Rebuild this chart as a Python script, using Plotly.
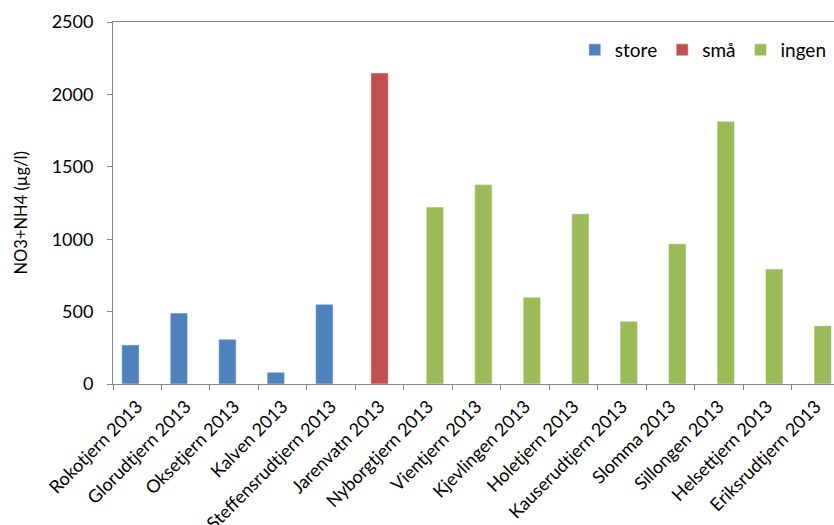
import plotly.graph_objects as go

categories = ["Rokotjern 2013", "Glorudtjern 2013", "Oksetjern 2013", "Kalven 2013",
              "Steffensrudtjern 2013", "Jarenvatn 2013", "Nyborgtjern 2013", "Vientjern 2013",
              "Kjevlingen 2013", "Holetjern 2013", "Kauserudtjern 2013", "Slomma 2013",
              "Sillongen 2013", "Helsettjern 2013", "Eriksrudtjern 2013"]
store = [270, 490, 309, 81, 550, None, None, None, None, None, None, None, None, None, None]
sma = [None, None, None, None, None, 2148, None, None, None, None, None, None, None, None, None]
ingen = [None, None, None, None, None, None, 1222, 1377, 599, 1176, 433, 969, 1814, 794, 403]
y_ticks = [0, 500, 1000, 1500, 2000, 2500]
y_title = "NO3+NH4 (µg/l)"

FONT = "Lato"
bw = 0.36
fig = go.Figure()
for name, vals, col, off in [("store", store, "#4F81BD", -0.32),
                             ("små", sma, "#C0504D", -0.18),
                             ("ingen", ingen, "#9BBB59", -0.038)]:
    fig.add_trace(go.Bar(x=categories, y=vals, name=name, width=bw, offset=off,
                         marker=dict(color=col, line=dict(color="rgba(255,255,255,0.5)", width=1))))

fig.update_layout(
    width=834, height=525,
    margin=dict(l=113, r=0, t=22, b=141),
    plot_bgcolor="white", paper_bgcolor="white",
    barmode="overlay",
    font=dict(family=FONT, size=18, color="#000000"),
    showlegend=True,
    legend=dict(orientation="h", x=0.997, xanchor="right", y=0.9227, yanchor="middle",
                font=dict(family=FONT, size=19, color="#000000"),
                bgcolor="rgba(0,0,0,0)", itemwidth=30, tracegroupgap=0),
    annotations=[dict(text=y_title, xref="paper", yref="paper", x=-0.1276, y=0.471,
                      xanchor="center", yanchor="middle", textangle=-90, showarrow=False,
                      font=dict(family=FONT, size=16.5, color="#000000"))],
)
fig.update_xaxes(
    type="category", range=[-0.5, 14.375], tickangle=-45, tickson="boundaries",
    ticks="outside", ticklen=5, tickcolor="#868686", automargin=False,
    showline=True, linecolor="#868686", linewidth=1, mirror=True, ticklabelstandoff=4,
    showgrid=False, tickfont=dict(family=FONT, size=18, color="#000000"),
)
fig.update_yaxes(
    range=[0, 2500], tickvals=y_ticks, ticks="outside", ticklen=5, tickcolor="#868686",
    showline=True, linecolor="#868686", linewidth=1, showgrid=False, zeroline=False,
    ticklabelstandoff=10, automargin=False,
    tickfont=dict(family=FONT, size=18, color="#000000"),
)
fig.write_html("out.html", config={"displayModeBar": False},
               post_script="document.body.style.margin='0';document.body.style.overflow='hidden';")
